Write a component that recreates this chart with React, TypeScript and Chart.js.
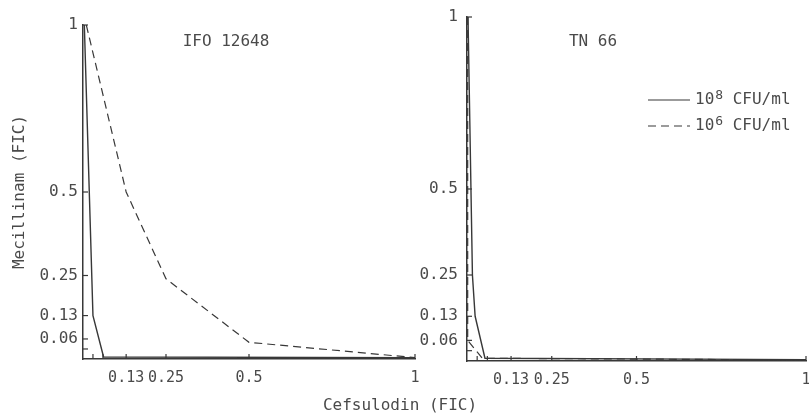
import React, { useEffect, useRef } from 'react';
import { Chart, registerables } from 'chart.js';

Chart.register(...registerables);

// ---- data ----
const tickValues = [0.03, 0.06, 0.13, 0.25, 0.5, 1];
const xTickLabels = ['', '', '0.13', '0.25', '0.5', '1'];
const yTickLabels = ['', '0.06', '0.13', '0.25', '0.5', '1'];

const seriesBase = ['10', '10'];
const seriesExp = ['8', '6'];
const seriesUnit = 'CFU/ml';

// IFO 12648
const ifo108X = [0.004, 0.03, 0.062, 1];
const ifo108Y = [1, 0.13, 0.006, 0.004];
const ifo106X = [0.01, 0.13, 0.25, 0.5, 1];
const ifo106Y = [1, 0.5, 0.24, 0.05, 0.004];

// TN 66
const tn108X = [0.003, 0.016, 0.024, 0.053, 1];
const tn108Y = [1, 0.25, 0.13, 0.008, 0.004];
const tn106X = [0.002, 0.002, 0.045, 1];
const tn106Y = [1, 0.06, 0.008, 0.003];

const FONT = "'DejaVu Sans Mono', monospace";
const TEXT = '#4a4a4a';
const INK = '#383838';

const pts = (xs: number[], ys: number[]) => xs.map((x, i) => ({ x, y: ys[i] }));

const inwardTicks = {
  id: 'inwardTicks',
  afterDatasetsDraw(chart: any) {
    const { ctx, chartArea, scales } = chart;
    ctx.save();
    ctx.strokeStyle = INK;
    ctx.lineWidth = 1.2;
    scales.x.ticks.forEach((t: any) => {
      const px = scales.x.getPixelForValue(t.value);
      ctx.beginPath();
      ctx.moveTo(px, chartArea.bottom);
      ctx.lineTo(px, chartArea.bottom - 5);
      ctx.stroke();
    });
    scales.y.ticks.forEach((t: any) => {
      const py = scales.y.getPixelForValue(t.value);
      ctx.beginPath();
      ctx.moveTo(chartArea.left, py);
      ctx.lineTo(chartArea.left + 5, py);
      ctx.stroke();
    });
    ctx.restore();
  },
};

const panelText = {
  id: 'panelText',
  afterDraw(chart: any, _args: any, opts: any) {
    const { ctx } = chart;
    ctx.save();
    ctx.font = `16px ${FONT}`;
    ctx.fillStyle = TEXT;
    ctx.textBaseline = 'middle';
    if (opts.title) {
      ctx.textAlign = 'center';
      ctx.fillText(opts.title, opts.titleX, opts.titleY);
    }
    if (opts.legend) {
      ctx.textAlign = 'left';
      chart.data.datasets.forEach((ds: any, i: number) => {
        const y = opts.legendY + i * opts.legendGap;
        ctx.strokeStyle = INK;
        ctx.lineWidth = 1.2;
        ctx.setLineDash(ds.borderDash || []);
        ctx.beginPath();
        ctx.moveTo(opts.legendX, y);
        ctx.lineTo(opts.legendX + 42, y);
        ctx.stroke();
        ctx.setLineDash([]);
        let x = opts.legendX + 47;
        ctx.font = `16px ${FONT}`;
        ctx.fillText(seriesBase[i], x, y);
        x += ctx.measureText(seriesBase[i]).width + 1;
        ctx.font = `13px ${FONT}`;
        ctx.fillText(seriesExp[i], x, y - 4);
        x += ctx.measureText(seriesExp[i]).width;
        ctx.font = `16px ${FONT}`;
        ctx.fillText(' ' + seriesUnit, x, y);
      });
    }
    ctx.restore();
  },
};

function makeConfig(
  d108: { x: number; y: number }[],
  d106: { x: number; y: number }[],
  o: any
): any {
  return {
    type: 'scatter',
    data: {
      datasets: [
        {
          label: seriesBase[0] + seriesExp[0] + ' ' + seriesUnit,
          data: d108,
          showLine: true,
          borderColor: INK,
          borderWidth: 1.4,
          pointRadius: 0,
          tension: 0,
        },
        {
          label: seriesBase[1] + seriesExp[1] + ' ' + seriesUnit,
          data: d106,
          showLine: true,
          borderColor: INK,
          borderWidth: 1.2,
          borderDash: [8, 5],
          pointRadius: 0,
          tension: 0,
        },
      ],
    },
    options: {
      animation: false,
      responsive: false,
      layout: { padding: { top: o.top, right: o.right, left: 0, bottom: 0 } },
      plugins: {
        legend: { display: false },
        tooltip: { enabled: false },
        panelText: o.text,
      },
      scales: {
        x: {
          type: 'linear',
          min: 0,
          max: 1,
          afterBuildTicks: (s: any) => {
            s.ticks = tickValues.map((v) => ({ value: v }));
          },
          afterFit: (s: any) => {
            s.height = o.xHeight;
            s.paddingLeft = 0;
            s.paddingRight = 0;
          },
          ticks: {
            autoSkip: false,
            maxRotation: 0,
            minRotation: 0,
            padding: 10,
            color: TEXT,
            font: { family: FONT, size: 15 },
            callback: (_v: any, i: number) => xTickLabels[i],
          },
          grid: { display: true, drawOnChartArea: false, drawTicks: false, color: INK },
          border: { display: true, color: INK, width: 1.5 },
        },
        y: {
          type: 'linear',
          min: 0,
          max: 1,
          afterBuildTicks: (s: any) => {
            s.ticks = tickValues.map((v) => ({ value: v }));
          },
          afterFit: (s: any) => {
            s.width = o.yWidth;
            s.paddingTop = 0;
            s.paddingBottom = 0;
          },
          ticks: {
            autoSkip: false,
            padding: o.yPad,
            color: TEXT,
            font: { family: FONT, size: 16 },
            callback: (_v: any, i: number) => yTickLabels[i],
          },
          title: o.yTitle
            ? {
                display: true,
                text: 'Mecillinam (FIC)',
                color: TEXT,
                font: { family: FONT, size: 16 },
                padding: { top: 10, bottom: 4 },
              }
            : { display: false },
          grid: { display: true, drawOnChartArea: false, drawTicks: false, color: INK },
          border: { display: true, color: INK, width: 1.5 },
        },
      },
    },
    plugins: [inwardTicks, panelText],
  };
}

export default function App() {
  const leftRef = useRef<HTMLCanvasElement | null>(null);
  const rightRef = useRef<HTMLCanvasElement | null>(null);

  useEffect(() => {
    const left = new Chart(
      leftRef.current as HTMLCanvasElement,
      makeConfig(pts(ifo108X, ifo108Y), pts(ifo106X, ifo106Y), {
        top: 25,
        right: 5,
        xHeight: 55,
        yWidth: 83,
        yPad: 5,
        yTitle: true,
        text: { title: 'IFO 12648', titleX: 226, titleY: 42 },
      })
    );
    const right = new Chart(
      rightRef.current as HTMLCanvasElement,
      makeConfig(pts(tn108X, tn108Y), pts(tn106X, tn106Y), {
        top: 17,
        right: 3,
        xHeight: 53,
        yWidth: 47,
        yPad: 9,
        yTitle: false,
        text: {
          title: 'TN 66',
          titleX: 173,
          titleY: 42,
          legend: true,
          legendX: 228,
          legendY: 100,
          legendGap: 26,
        },
      })
    );
    return () => {
      left.destroy();
      right.destroy();
    };
  }, []);

  return (
    <div
      style={{
        position: 'fixed',
        left: 0,
        top: 0,
        width: 809,
        height: 414,
        background: '#fff',
        overflow: 'hidden',
      }}
    >
      <canvas
        ref={leftRef}
        width={420}
        height={414}
        style={{ position: 'absolute', left: 0, top: 0, width: 420, height: 414 }}
      />
      <canvas
        ref={rightRef}
        width={389}
        height={414}
        style={{ position: 'absolute', left: 420, top: 0, width: 389, height: 414 }}
      />
      <div
        style={{
          position: 'absolute',
          left: 0,
          width: 800,
          top: 395,
          textAlign: 'center',
          font: `16px ${FONT}`,
          color: TEXT,
          lineHeight: '20px',
          whiteSpace: 'pre',
        }}
      >
        Cefsulodin (FIC)
      </div>
    </div>
  );
}
